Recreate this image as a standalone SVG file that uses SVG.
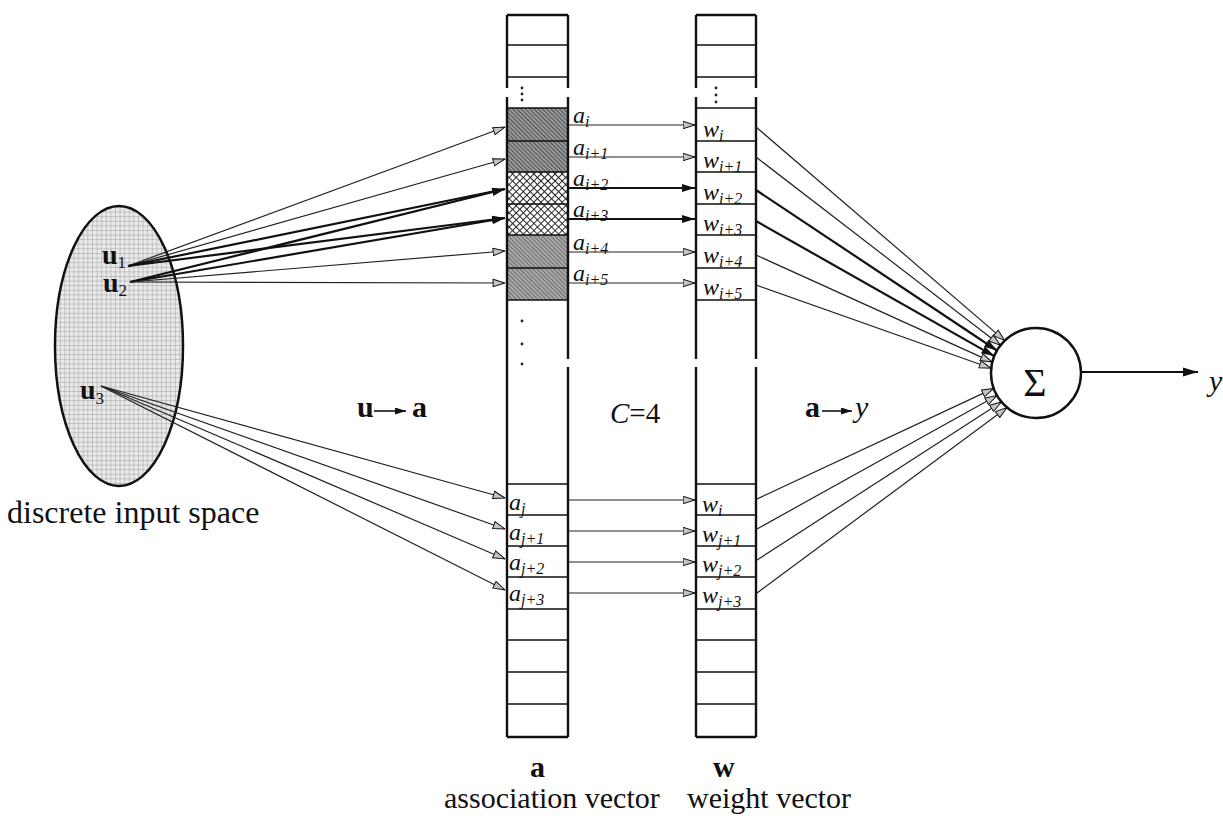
<svg xmlns="http://www.w3.org/2000/svg" width="1223" height="821" viewBox="0 0 1223 821">
  <style>
    .serif { font-family: "Liberation Serif", "Times New Roman", serif; fill: #111; }
    .it { font-style: italic; }
    .bd { font-weight: bold; }
    .lab { font-size: 24px; }
    .sub { font-size: 16px; }
    .big { font-size: 30px; }
    .edge { fill: none; stroke: #111; stroke-width: 2.4; }
    .cell { fill: none; stroke: #111; stroke-width: 1.5; }
    .thin { fill: none; stroke: #222; stroke-width: 1.2; }
    .thick { fill: none; stroke: #111; stroke-width: 2.2; }
    .dot { fill: #222; }
  </style>
  <defs>
    <!-- fine grid filling the input space -->
    <pattern id="grid" width="4.6" height="4.6" patternUnits="userSpaceOnUse">
      <rect width="4.6" height="4.6" fill="#e9e9e9"/>
      <path d="M0,0 H4.6 M0,0 V4.6" stroke="#8c8c8c" stroke-width="0.8"/>
    </pattern>
    <!-- diagonal hatching for active cells -->
    <pattern id="hatchDark" width="3" height="3" patternUnits="userSpaceOnUse" patternTransform="rotate(-45)">
      <rect width="3" height="3" fill="#9a9a9a"/>
      <line x1="0" y1="0" x2="0" y2="3" stroke="#333" stroke-width="1.4"/>
    </pattern>
    <pattern id="hatchLight" width="3" height="3" patternUnits="userSpaceOnUse" patternTransform="rotate(-45)">
      <rect width="3" height="3" fill="#aaa"/>
      <line x1="0" y1="0" x2="0" y2="3" stroke="#444" stroke-width="1.2"/>
    </pattern>
    <!-- cross-hatching for cells shared by u1 and u2 -->
    <pattern id="cross" width="5" height="5" patternUnits="userSpaceOnUse" patternTransform="rotate(45)">
      <rect width="5" height="5" fill="#fff"/>
      <path d="M0,0 H5 M0,0 V5" stroke="#222" stroke-width="1.9"/>
    </pattern>
    <marker id="open" viewBox="0 0 13 9" refX="12.5" refY="4.5" markerWidth="13" markerHeight="9" markerUnits="userSpaceOnUse" orient="auto">
      <path d="M0.6,0.8 L12.4,4.5 L0.6,8.2 z" fill="#c4c4c4" stroke="#111" stroke-width="1"/>
    </marker>
    <marker id="solid" viewBox="0 0 13 9" refX="13" refY="4.5" markerWidth="13" markerHeight="9" markerUnits="userSpaceOnUse" orient="auto">
      <path d="M0,0.5 L13,4.5 L0,8.5 z" fill="#111"/>
    </marker>
    <marker id="head" viewBox="0 0 15 10" refX="15" refY="5" markerWidth="15" markerHeight="10" markerUnits="userSpaceOnUse" orient="auto">
      <path d="M0,0.5 L15,5 L0,9.5 z" fill="#111"/>
    </marker>
    <marker id="small" viewBox="0 0 11 7" refX="11" refY="3.5" markerWidth="11" markerHeight="7" markerUnits="userSpaceOnUse" orient="auto">
      <path d="M0,0 L11,3.5 L0,7 z" fill="#111"/>
    </marker>
  </defs>

  <rect width="1223" height="821" fill="#fff"/>

  <!-- discrete input space -->
  <g id="input-space">
    <ellipse cx="119" cy="346" rx="64" ry="140" fill="url(#grid)" stroke="#111" stroke-width="2.5"/>
    <text class="serif bd" x="102" y="264" font-size="28">u<tspan font-weight="normal" dy="4" font-size="17">1</tspan></text>
    <text class="serif bd" x="103" y="292" font-size="28">u<tspan font-weight="normal" dy="4" font-size="17">2</tspan></text>
    <text class="serif bd" x="80" y="399" font-size="28">u<tspan font-weight="normal" dy="5" font-size="17">3</tspan></text>
    <text class="serif" x="7" y="523" font-size="32">discrete input space</text>
  </g>

  <!-- association vector a -->
  <g id="association-vector">
    <rect x="507" y="108" width="61" height="33" fill="url(#hatchDark)"/>
    <rect x="507" y="141" width="61" height="31" fill="url(#hatchDark)"/>
    <rect x="507" y="172" width="61" height="63" fill="url(#cross)"/>
    <rect x="507" y="235" width="61" height="65" fill="url(#hatchLight)"/>
    <path class="edge" d="M507,15 H568 M507,737 H568 M507,15 V88 M507,97 V737 M568,15 V88 M568,97 V359 M568,367 V737"/>
    <path class="cell" d="M507,45 H568 M507,77 H568 M507,108 H568 M507,141 H568 M507,172 H568 M507,204 H568 M507,235 H568 M507,268 H568 M507,300 H568"/>
    <path class="cell" d="M507,484 H568 M507,515 H568 M507,546 H568 M507,577 H568 M507,609 H568 M507,640 H568 M507,672 H568 M507,704 H568"/>
    <circle class="dot" cx="522" cy="88" r="1.4"/>
    <circle class="dot" cx="522" cy="94" r="1.4"/>
    <circle class="dot" cx="522" cy="100" r="1.4"/>
    <circle class="dot" cx="522" cy="321" r="1.4"/>
    <circle class="dot" cx="522" cy="344" r="1.4"/>
    <circle class="dot" cx="522" cy="364" r="1.4"/>
    <g class="serif it lab">
      <text x="573" y="123">a<tspan class="sub" dy="4">i</tspan></text>
      <text x="573" y="155">a<tspan class="sub" dy="4">i+1</tspan></text>
      <text x="573" y="186">a<tspan class="sub" dy="4">i+2</tspan></text>
      <text x="573" y="217">a<tspan class="sub" dy="4">i+3</tspan></text>
      <text x="573" y="250">a<tspan class="sub" dy="4">i+4</tspan></text>
      <text x="573" y="281">a<tspan class="sub" dy="4">i+5</tspan></text>
      <text x="509" y="510">a<tspan class="sub" dy="4">j</tspan></text>
      <text x="509" y="540">a<tspan class="sub" dy="4">j+1</tspan></text>
      <text x="509" y="570">a<tspan class="sub" dy="4">j+2</tspan></text>
      <text x="509" y="601">a<tspan class="sub" dy="4">j+3</tspan></text>
    </g>
    <text class="serif bd big" x="530" y="777">a</text>
    <text class="serif big" x="444" y="808">association vector</text>
  </g>

  <!-- weight vector w -->
  <g id="weight-vector">
    <path class="edge" d="M696,15 H756 M696,737 H756 M696,15 V88 M696,97 V359 M696,367 V737 M756,15 V88 M756,97 V359 M756,367 V737"/>
    <path class="cell" d="M696,45 H756 M696,77 H756 M696,108 H756 M696,141 H756 M696,172 H756 M696,204 H756 M696,235 H756 M696,268 H756 M696,300 H756"/>
    <path class="cell" d="M696,484 H756 M696,515 H756 M696,546 H756 M696,577 H756 M696,609 H756 M696,640 H756 M696,672 H756 M696,704 H756"/>
    <circle class="dot" cx="716" cy="88" r="1.4"/>
    <circle class="dot" cx="716" cy="95" r="1.4"/>
    <circle class="dot" cx="716" cy="102" r="1.4"/>
    <g class="serif it lab">
      <text x="703" y="137">w<tspan class="sub" dy="4">i</tspan></text>
      <text x="703" y="168">w<tspan class="sub" dy="4">i+1</tspan></text>
      <text x="703" y="200">w<tspan class="sub" dy="4">i+2</tspan></text>
      <text x="703" y="231">w<tspan class="sub" dy="4">i+3</tspan></text>
      <text x="703" y="263">w<tspan class="sub" dy="4">i+4</tspan></text>
      <text x="703" y="295">w<tspan class="sub" dy="4">i+5</tspan></text>
      <text x="702" y="512">w<tspan class="sub" dy="4">i</tspan></text>
      <text x="702" y="542">w<tspan class="sub" dy="4">j+1</tspan></text>
      <text x="702" y="572">w<tspan class="sub" dy="4">j+2</tspan></text>
      <text x="702" y="603">w<tspan class="sub" dy="4">j+3</tspan></text>
    </g>
    <text class="serif bd big" x="713" y="777">w</text>
    <text class="serif big" x="687" y="808">weight vector</text>
  </g>

  <!-- summing node -->
  <g id="sum-node">
    <circle cx="1036" cy="373" r="45" fill="#fff" stroke="#111" stroke-width="2.4"/>
    <text class="serif" x="1035" y="396" font-size="40" text-anchor="middle">Σ</text>
    <text class="serif it" x="1209" y="391" font-size="30">y</text>
  </g>

  <!-- mapping annotations -->
  <g id="mapping-labels">
    <text class="serif bd big" x="357" y="417">u</text>
    <line x1="374" y1="411" x2="406" y2="411" stroke="#111" stroke-width="1.6" marker-end="url(#small)"/>
    <text class="serif bd big" x="412" y="417">a</text>
    <text class="serif" x="610" y="423" font-size="29"><tspan class="it">C</tspan>=4</text>
    <text class="serif bd big" x="805" y="417">a</text>
    <line x1="822" y1="411" x2="852" y2="411" stroke="#111" stroke-width="1.6" marker-end="url(#small)"/>
    <text class="serif it big" x="855" y="417">y</text>
  </g>

  <g id="connectors">
    <!-- input points to association cells -->
    <path class="thin" d="M128,266 L505,127" marker-end="url(#open)"/>
    <path class="thin" d="M128,266 L505,159" marker-end="url(#open)"/>
    <path class="thick" d="M128,266 L505,189" marker-end="url(#solid)"/>
    <path class="thick" d="M128,266 L505,218" marker-end="url(#solid)"/>
    <path class="thick" d="M130,282 L505,189" marker-end="url(#solid)"/>
    <path class="thick" d="M130,282 L505,218" marker-end="url(#solid)"/>
    <path class="thin" d="M130,282 L505,251" marker-end="url(#open)"/>
    <path class="thin" d="M130,282 L505,283" marker-end="url(#open)"/>
    <path class="thin" d="M101,386 L505,498" marker-end="url(#open)"/>
    <path class="thin" d="M101,386 L505,529" marker-end="url(#open)"/>
    <path class="thin" d="M101,386 L505,559" marker-end="url(#open)"/>
    <path class="thin" d="M101,386 L505,590" marker-end="url(#open)"/>

    <!-- association cells to weights -->
    <path class="thin" d="M568,125 H695" marker-end="url(#open)"/>
    <path class="thin" d="M568,157 H695" marker-end="url(#open)"/>
    <path class="thick" d="M568,188 H695" marker-end="url(#solid)"/>
    <path class="thick" d="M568,219 H695" marker-end="url(#solid)"/>
    <path class="thin" d="M568,252 H695" marker-end="url(#open)"/>
    <path class="thin" d="M568,283 H695" marker-end="url(#open)"/>
    <path class="thin" d="M568,500 H695" marker-end="url(#open)"/>
    <path class="thin" d="M568,531 H695" marker-end="url(#open)"/>
    <path class="thin" d="M568,562 H695" marker-end="url(#open)"/>
    <path class="thin" d="M568,593 H695" marker-end="url(#open)"/>

    <!-- weights to summing node -->
    <path class="thin" d="M756,127 L1004.7,340.6" marker-end="url(#open)"/>
    <path class="thin" d="M756,157 L1000.5,345.3" marker-end="url(#open)"/>
    <path class="thick" d="M756,190 L997,350.5" marker-end="url(#solid)"/>
    <path class="thick" d="M756,221 L994.3,356.1" marker-end="url(#solid)"/>
    <path class="thin" d="M756,255 L992.3,362.1" marker-end="url(#open)"/>
    <path class="thin" d="M756,285 L991.2,368.3" marker-end="url(#open)"/>
    <path class="thin" d="M757,499 L993.7,388.4" marker-end="url(#open)"/>
    <path class="thin" d="M757,529 L997,395.5" marker-end="url(#open)"/>
    <path class="thin" d="M757,560 L1001.5,401.9" marker-end="url(#open)"/>
    <path class="thin" d="M757,593 L1007.1,407.5" marker-end="url(#open)"/>

    <!-- output -->
    <path d="M1081,372 H1198" fill="none" stroke="#111" stroke-width="2.2" marker-end="url(#head)"/>
  </g>
</svg>
